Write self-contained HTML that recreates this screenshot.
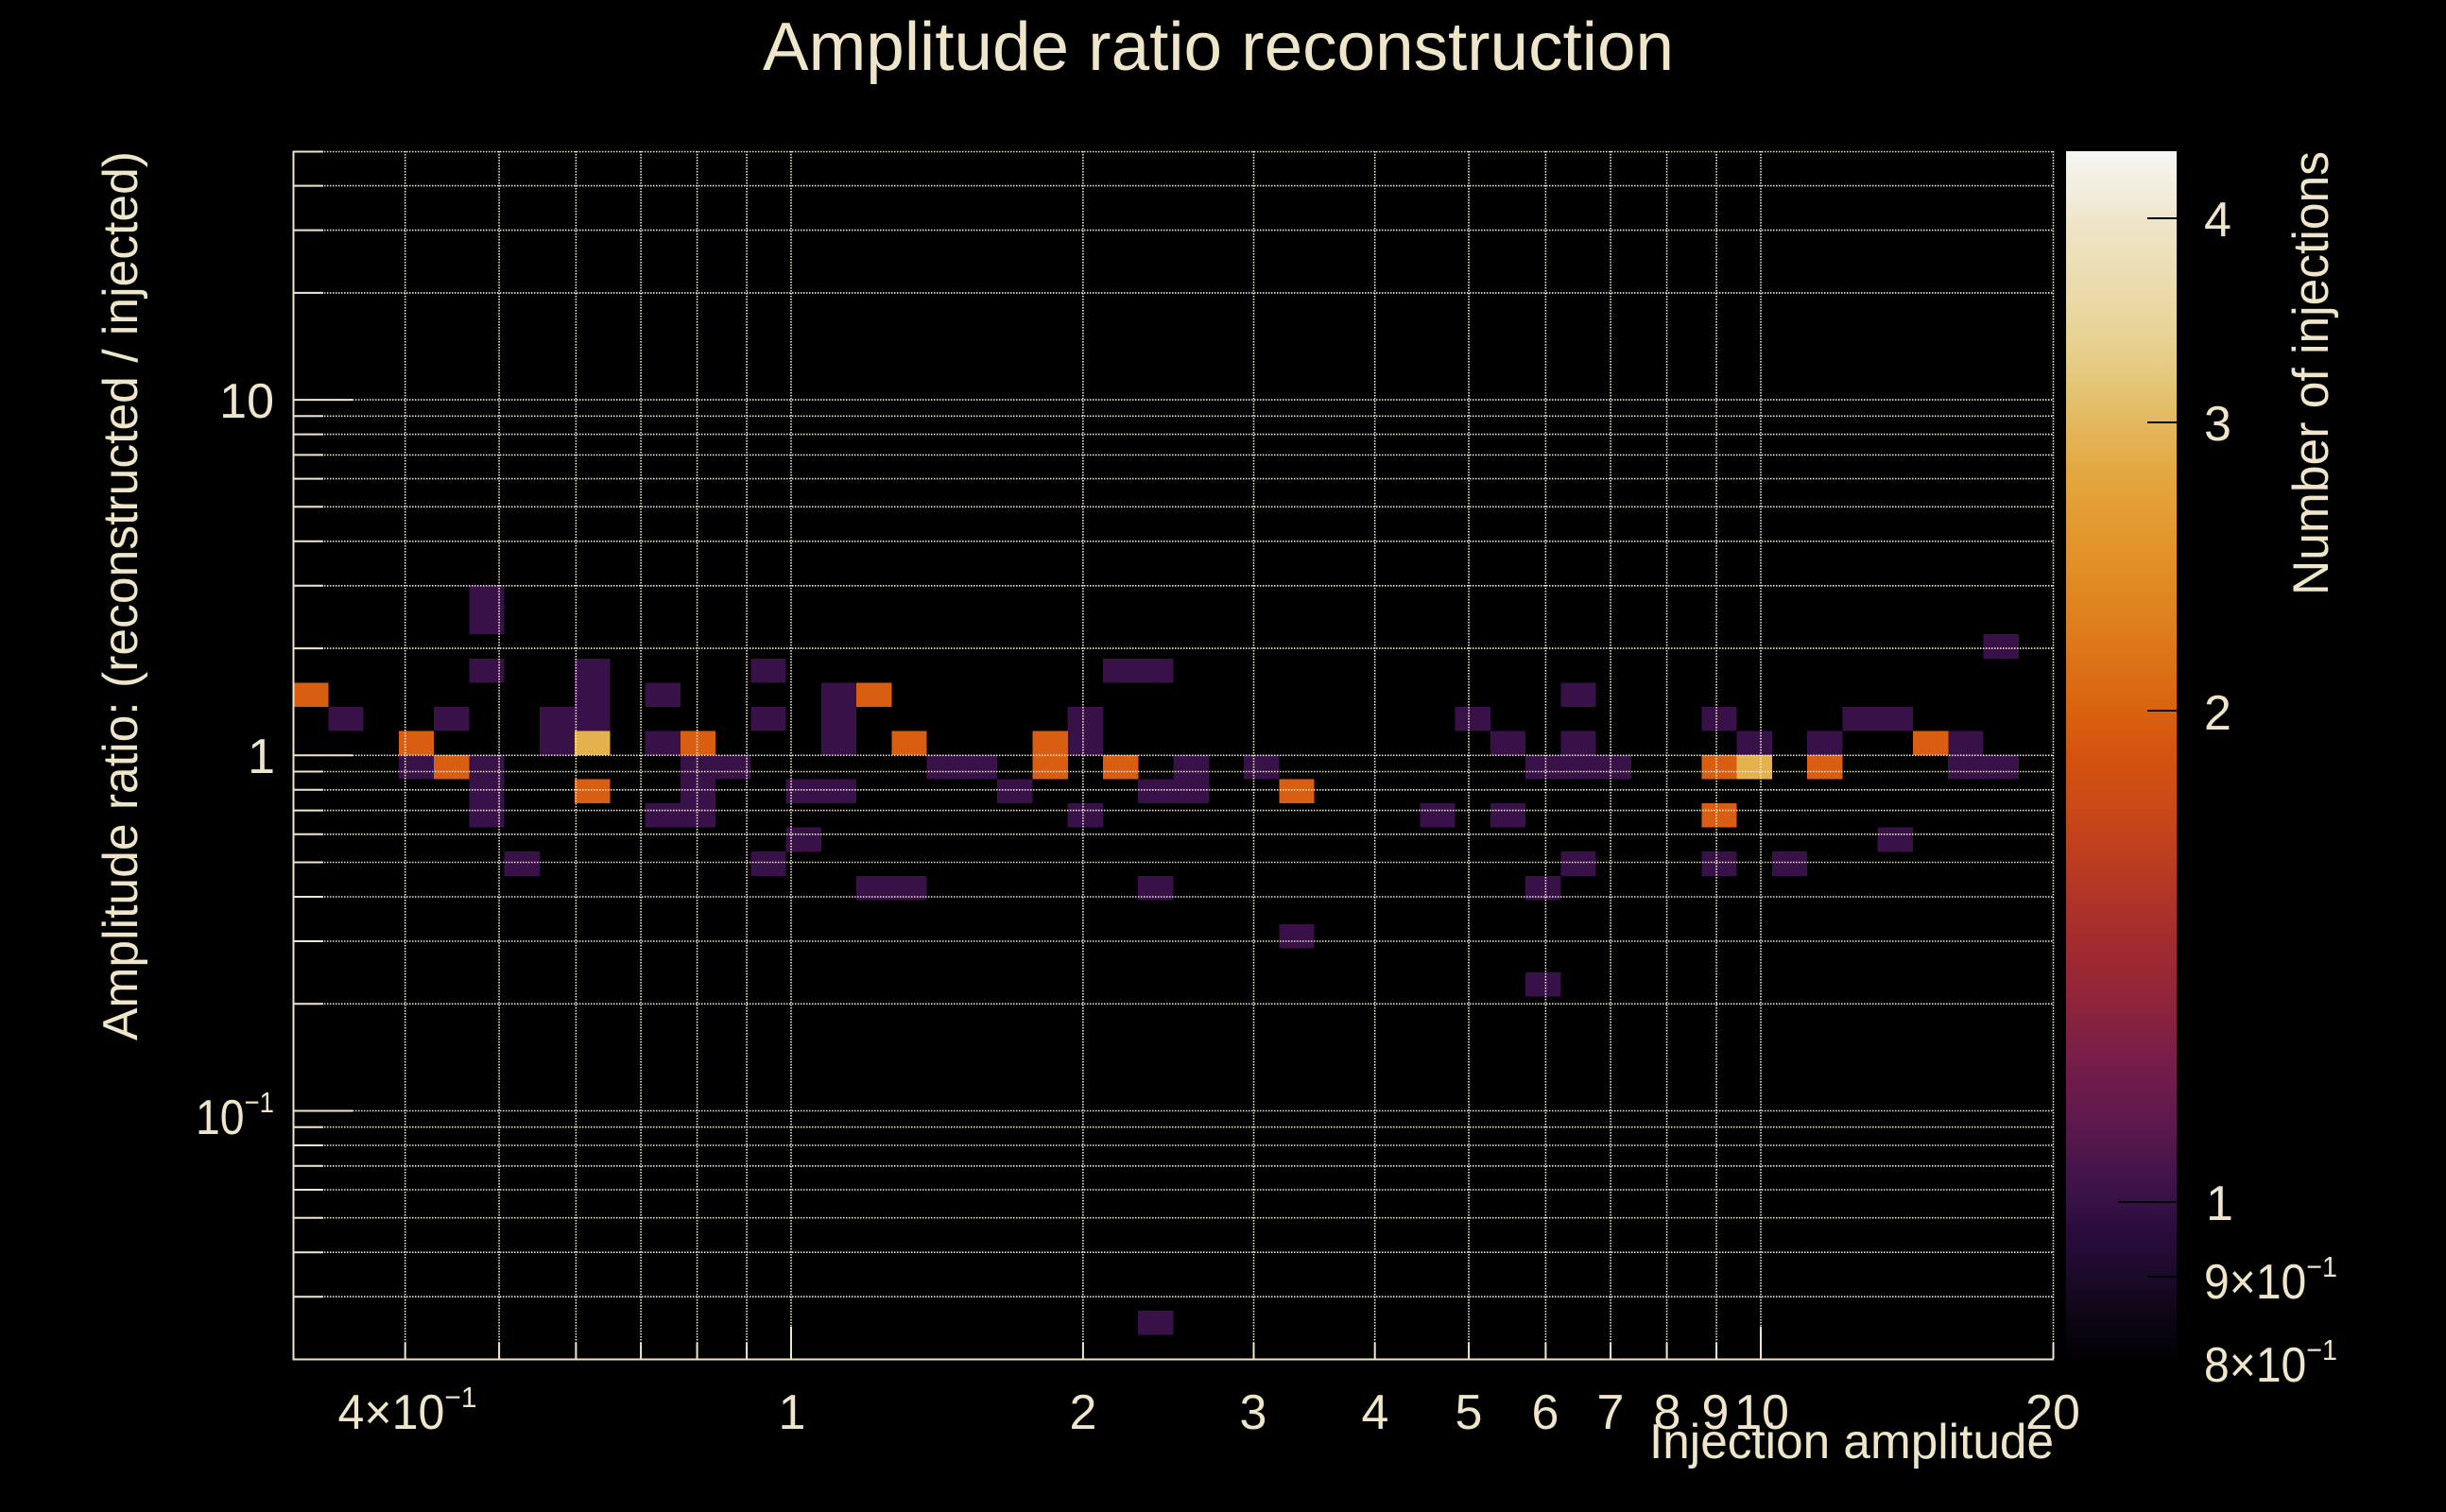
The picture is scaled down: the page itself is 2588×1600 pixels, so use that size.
<!DOCTYPE html>
<html>
<head>
<meta charset="utf-8">
<style>
html,body{margin:0;padding:0;background:#000;width:2588px;height:1600px;overflow:hidden}
svg{display:block}
text{font-family:"Liberation Sans","DejaVu Sans",sans-serif;fill:#efe5c8}
</style>
</head>
<body>
<svg xmlns="http://www.w3.org/2000/svg" width="2588" height="1600" viewBox="0 0 2588 1600">
<defs>
<linearGradient id="cb" gradientUnits="userSpaceOnUse" x1="0" y1="160" x2="0" y2="1438">
<stop offset="0" stop-color="#f6f5f2"/>
<stop offset="0.0313" stop-color="#f2eedf"/>
<stop offset="0.0556" stop-color="#efe6cb"/>
<stop offset="0.1095" stop-color="#ebdcae"/>
<stop offset="0.1487" stop-color="#e8d497"/>
<stop offset="0.1878" stop-color="#e5c87c"/>
<stop offset="0.2246" stop-color="#e4b85e"/>
<stop offset="0.2660" stop-color="#e4a740"/>
<stop offset="0.3130" stop-color="#e3992f"/>
<stop offset="0.3599" stop-color="#e08a22"/>
<stop offset="0.4225" stop-color="#dd7318"/>
<stop offset="0.4632" stop-color="#d9620f"/>
<stop offset="0.5008" stop-color="#d4530f"/>
<stop offset="0.5399" stop-color="#cb4a17"/>
<stop offset="0.5790" stop-color="#bf3f1f"/>
<stop offset="0.6182" stop-color="#b03428"/>
<stop offset="0.6573" stop-color="#a22b30"/>
<stop offset="0.6964" stop-color="#922538"/>
<stop offset="0.7355" stop-color="#7f2045"/>
<stop offset="0.7746" stop-color="#6d1b4c"/>
<stop offset="0.8138" stop-color="#58184d"/>
<stop offset="0.8529" stop-color="#40134b"/>
<stop offset="0.8701" stop-color="#371147"/>
<stop offset="0.8920" stop-color="#2b0c3e"/>
<stop offset="0.9319" stop-color="#1b0a29"/>
<stop offset="0.9703" stop-color="#0b0512"/>
<stop offset="1" stop-color="#020104"/>
</linearGradient>
</defs>
<rect x="0" y="0" width="2588" height="1600" fill="#000"/>

<text x="1289" y="74" font-size="72" text-anchor="middle" textLength="964" lengthAdjust="spacingAndGlyphs">Amplitude ratio reconstruction</text>

<g shape-rendering="crispEdges">
<g fill="#371147">
<rect x="347.26" y="747.88" width="37.3" height="25.6"/>
<rect x="421.78" y="799" width="37.3" height="25.6"/>
<rect x="459.04" y="747.88" width="37.3" height="25.6"/>
<rect x="496.3" y="620.08" width="37.3" height="51.16"/>
<rect x="496.3" y="696.76" width="37.3" height="25.6"/>
<rect x="496.3" y="799" width="37.3" height="76.72"/>
<rect x="533.56" y="901.24" width="37.3" height="25.6"/>
<rect x="570.82" y="747.88" width="37.3" height="51.16"/>
<rect x="608.08" y="696.76" width="37.3" height="76.72"/>
<rect x="682.6" y="722.32" width="37.3" height="25.6"/>
<rect x="682.6" y="773.44" width="37.3" height="25.6"/>
<rect x="682.6" y="850.12" width="37.3" height="25.6"/>
<rect x="719.86" y="799" width="37.3" height="76.72"/>
<rect x="757.12" y="799" width="37.3" height="25.6"/>
<rect x="794.38" y="696.76" width="37.3" height="25.6"/>
<rect x="794.38" y="747.88" width="37.3" height="25.6"/>
<rect x="794.38" y="901.24" width="37.3" height="25.6"/>
<rect x="831.64" y="824.56" width="37.3" height="25.6"/>
<rect x="831.64" y="875.68" width="37.3" height="25.6"/>
<rect x="868.9" y="722.32" width="37.3" height="76.72"/>
<rect x="868.9" y="824.56" width="37.3" height="25.6"/>
<rect x="906.16" y="926.8" width="37.3" height="25.6"/>
<rect x="943.42" y="926.8" width="37.3" height="25.6"/>
<rect x="980.68" y="799" width="74.56" height="25.6"/>
<rect x="1055.2" y="824.56" width="37.3" height="25.6"/>
<rect x="1129.72" y="747.88" width="37.3" height="51.16"/>
<rect x="1129.72" y="850.12" width="37.3" height="25.6"/>
<rect x="1166.98" y="696.76" width="74.56" height="25.6"/>
<rect x="1204.24" y="824.56" width="37.3" height="25.6"/>
<rect x="1204.24" y="926.8" width="37.3" height="25.6"/>
<rect x="1204.24" y="1386.88" width="37.3" height="25.6"/>
<rect x="1241.5" y="799" width="37.3" height="51.16"/>
<rect x="1316.02" y="799" width="37.3" height="25.6"/>
<rect x="1353.28" y="977.92" width="37.3" height="25.6"/>
<rect x="1502.32" y="850.12" width="37.3" height="25.6"/>
<rect x="1539.58" y="747.88" width="37.3" height="25.6"/>
<rect x="1576.84" y="773.44" width="37.3" height="25.6"/>
<rect x="1576.84" y="850.12" width="37.3" height="25.6"/>
<rect x="1614.1" y="799" width="111.82" height="25.6"/>
<rect x="1614.1" y="926.8" width="37.3" height="25.6"/>
<rect x="1614.1" y="1029.04" width="37.3" height="25.6"/>
<rect x="1651.36" y="722.32" width="37.3" height="25.6"/>
<rect x="1651.36" y="773.44" width="37.3" height="25.6"/>
<rect x="1651.36" y="901.24" width="37.3" height="25.6"/>
<rect x="1800.4" y="747.88" width="37.3" height="25.6"/>
<rect x="1800.4" y="901.24" width="37.3" height="25.6"/>
<rect x="1837.66" y="773.44" width="37.3" height="25.6"/>
<rect x="1874.92" y="901.24" width="37.3" height="25.6"/>
<rect x="1912.18" y="773.44" width="37.3" height="25.6"/>
<rect x="1949.44" y="747.88" width="74.56" height="25.6"/>
<rect x="1986.7" y="875.68" width="37.3" height="25.6"/>
<rect x="2061.22" y="773.44" width="37.3" height="25.6"/>
<rect x="2061.22" y="799" width="74.56" height="25.6"/>
<rect x="2098.48" y="671.2" width="37.3" height="25.6"/>
</g>
<g fill="#d95e12">
<rect x="310" y="722.32" width="37.3" height="25.6"/>
<rect x="421.78" y="773.44" width="37.3" height="25.6"/>
<rect x="459.04" y="799" width="37.3" height="25.6"/>
<rect x="608.08" y="824.56" width="37.3" height="25.6"/>
<rect x="719.86" y="773.44" width="37.3" height="25.6"/>
<rect x="906.16" y="722.32" width="37.3" height="25.6"/>
<rect x="943.42" y="773.44" width="37.3" height="25.6"/>
<rect x="1092.46" y="773.44" width="37.3" height="51.16"/>
<rect x="1166.98" y="799" width="37.3" height="25.6"/>
<rect x="1353.28" y="824.56" width="37.3" height="25.6"/>
<rect x="1800.4" y="799" width="37.3" height="25.6"/>
<rect x="1800.4" y="850.12" width="37.3" height="25.6"/>
<rect x="1912.18" y="799" width="37.3" height="25.6"/>
<rect x="2023.96" y="773.44" width="37.3" height="25.6"/>
</g>
<g fill="#e4b24c">
<rect x="608.08" y="773.44" width="37.3" height="25.6"/>
<rect x="1837.66" y="799" width="37.3" height="25.6"/>
</g>
</g>

<g stroke="#f2ead0" stroke-width="1.6" stroke-dasharray="1.5 1.5" fill="none">
<path d="M428.7 160V1438M528.1 160V1438M609.4 160V1438M678.1 160V1438M737.6 160V1438M790.1 160V1438M837 160V1438M1145.9 160V1438M1326.5 160V1438M1454.7 160V1438M1554.1 160V1438M1635.4 160V1438M1704.1 160V1438M1763.6 160V1438M1816.1 160V1438M1863 160V1438M2172.5 160V1438"/>
<path d="M310 160.5H2173M310 196.6H2173M310 243.6H2173M310 309.9H2173M310 423.1H2173M310 440.3H2173M310 459.6H2173M310 481.4H2173M310 506.6H2173M310 536.3H2173M310 572.8H2173M310 619.8H2173M310 686.1H2173M310 799.3H2173M310 816.5H2173M310 835.8H2173M310 857.6H2173M310 882.8H2173M310 912.5H2173M310 949H2173M310 996H2173M310 1062.3H2173M310 1175.5H2173M310 1192.7H2173M310 1212H2173M310 1233.8H2173M310 1259H2173M310 1288.7H2173M310 1325.2H2173M310 1372.2H2173"/>
</g>

<g stroke="#efe5c8" stroke-width="2" fill="none">
<path d="M310.5 160V1439.5M309.5 1438.5H2173"/>
<path d="M310 160.5H342M310 196.6H342M310 243.6H342M310 309.9H342M310 423.1H373M310 440.3H342M310 459.6H342M310 481.4H342M310 506.6H342M310 536.3H342M310 572.8H342M310 619.8H342M310 686.1H342M310 799.3H373M310 816.5H342M310 835.8H342M310 857.6H342M310 882.8H342M310 912.5H342M310 949H342M310 996H342M310 1062.3H342M310 1175.5H373M310 1192.7H342M310 1212H342M310 1233.8H342M310 1259H342M310 1288.7H342M310 1325.2H342M310 1372.2H342"/>
<path d="M428.7 1438V1421M528.1 1438V1421M609.4 1438V1421M678.1 1438V1421M737.6 1438V1421M790.1 1438V1421M837 1438V1404M1145.9 1438V1421M1326.5 1438V1421M1454.7 1438V1421M1554.1 1438V1421M1635.4 1438V1421M1704.1 1438V1421M1763.6 1438V1421M1816.1 1438V1421M1863 1438V1404M2172.5 1438V1421"/>
</g>

<g font-size="52" text-anchor="end">
<text x="290" y="442">10</text>
<text x="291" y="818">1</text>
<text x="290" y="1200" textLength="83" lengthAdjust="spacingAndGlyphs">10<tspan font-size="31" dy="-23">−1</tspan></text>
</g>

<g font-size="52" text-anchor="middle">
<text x="431" y="1512" textLength="147" lengthAdjust="spacingAndGlyphs">4×10<tspan font-size="31" dy="-23">−1</tspan></text>
<text x="838" y="1512">1</text>
<text x="1146" y="1512">2</text>
<text x="1326" y="1512">3</text>
<text x="1455" y="1512">4</text>
<text x="1554" y="1512">5</text>
<text x="1635" y="1512">6</text>
<text x="1704" y="1512">7</text>
<text x="1764" y="1512">8</text>
<text x="1815" y="1512">9</text>
<text x="1864" y="1512">10</text>
<text x="2172" y="1512">20</text>
</g>

<text x="2173" y="1543" font-size="52" text-anchor="end" textLength="428" lengthAdjust="spacingAndGlyphs">Injection amplitude</text>
<text transform="translate(145,160) rotate(-90)" font-size="52" text-anchor="end" textLength="941" lengthAdjust="spacingAndGlyphs">Amplitude ratio: (reconstructed / injected)</text>

<rect x="2186" y="160" width="117" height="1278" fill="url(#cb)"/>
<g stroke="#000" stroke-width="2">
<path d="M2303 231H2272M2303 447H2272M2303 752H2272M2303 1272H2241M2303 1351H2272"/>
</g>
<g font-size="52" text-anchor="start">
<text x="2332" y="250">4</text>
<text x="2332" y="466">3</text>
<text x="2332" y="772">2</text>
<text x="2334" y="1291">1</text>
<text x="2332" y="1374" textLength="141" lengthAdjust="spacingAndGlyphs">9×10<tspan font-size="31" dy="-23">−1</tspan></text>
<text x="2332" y="1462" textLength="141" lengthAdjust="spacingAndGlyphs">8×10<tspan font-size="31" dy="-23">−1</tspan></text>
</g>
<text transform="translate(2463,160) rotate(-90)" font-size="53" text-anchor="end" textLength="470" lengthAdjust="spacingAndGlyphs">Number of injections</text>
</svg>
</body>
</html>
